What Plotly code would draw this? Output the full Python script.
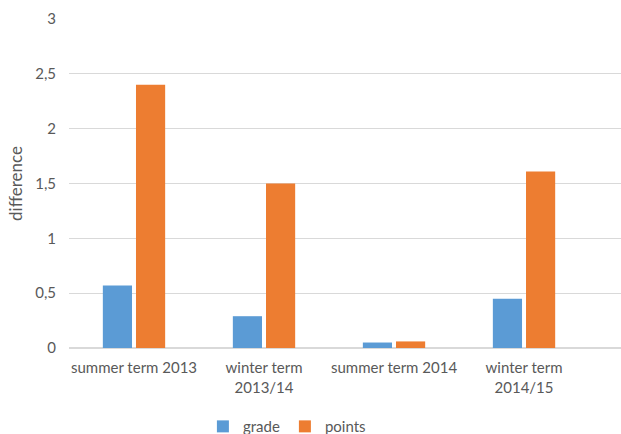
import plotly.graph_objects as go

categories = ["summer term 2013", "winter term<br>2013/14", "summer term 2014", "winter term<br>2014/15"]
grade = [0.57, 0.29, 0.05, 0.45]
points = [2.40, 1.50, 0.06, 1.61]

FONT = "Lato"
GRAY = "#595959"

fig = go.Figure()
fig.add_trace(go.Bar(x=categories, y=grade, name="grade", marker=dict(color="#5B9BD5", line=dict(width=0))))
fig.add_trace(go.Bar(x=categories, y=points, name="points", marker=dict(color="#ED7D31", line=dict(width=0))))

fig.update_layout(
    width=621, height=434,
    margin=dict(l=69, r=0, t=19, b=86, pad=0, autoexpand=False),
    paper_bgcolor="white", plot_bgcolor="white",
    separators=", ",
    barmode="group", bargap=0.49, bargroupgap=0.12,
    font=dict(family=FONT, size=15, color=GRAY),
    showlegend=True,
    legend=dict(orientation="h", xref="container", x=0.462, xanchor="center",
                yref="container", y=0.017, yanchor="middle", itemwidth=30,
                font=dict(size=15, color=GRAY), traceorder="normal"),
    xaxis=dict(range=[-0.5, 3.746], showgrid=False, showline=True, linecolor="#D9D9D9",
               ticks="", ticklabelstandoff=6, automargin=False, tickfont=dict(size=15, color=GRAY)),
    yaxis=dict(range=[0, 3], dtick=0.5, showgrid=True, gridcolor="#D9D9D9",
               zeroline=True, zerolinecolor="#D9D9D9", ticks="", ticklabelstandoff=12,
               automargin=False, tickfont=dict(size=15, color=GRAY),
               title=dict(text="difference", font=dict(size=17, color=GRAY), standoff=8)),
)

fig.write_html("out.html")
